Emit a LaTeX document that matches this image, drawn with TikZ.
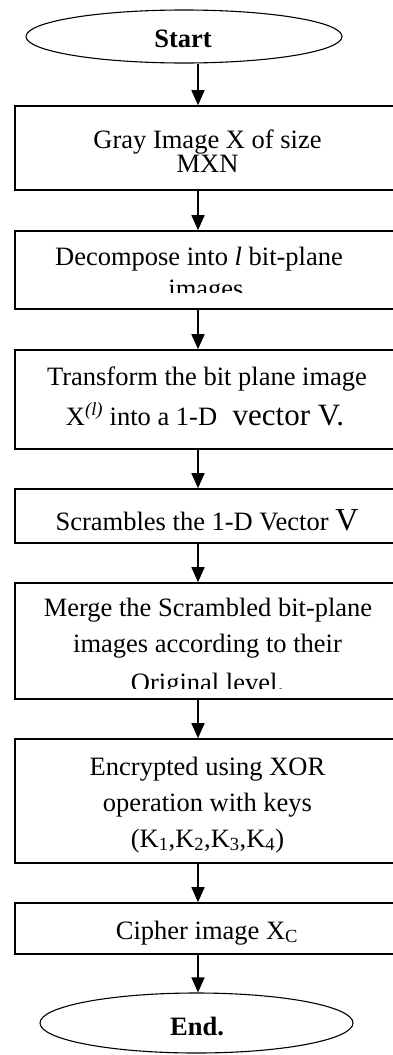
\documentclass[tikz,border=0pt]{standalone}
\usepackage{fontspec}
\setmainfont{Liberation Serif}
\usetikzlibrary{arrows.meta,shapes.geometric}
\begin{document}
\begin{tikzpicture}[x=1pt,y=-1pt,
  box/.style={draw,line width=1.6pt,rectangle,minimum width=384pt,inner sep=0pt},
  term/.style={draw,line width=1.1pt,ellipse,inner sep=0pt},
  txt/.style={anchor=base,inner sep=0pt,font=\fontsize{26.5}{30}\selectfont},
  btxt/.style={txt,font=\fontsize{26.5}{30}\selectfont\bfseries},
  flow/.style={line width=1.6pt,-{Triangle[length=15pt,width=13pt]}}
]
\useasboundingbox (0,0) rectangle (393,1055);
\coordinate (ax) at (198,0);

% terminals
\node[term,minimum width=316pt,minimum height=53pt] (st) at (184,36.5) {};
\node[btxt] (stt) at (183,47) {Start};
\node[term,minimum width=313pt,minimum height=60pt] (en) at (196.5,1023) {};
\node[btxt] (ent) at (197,1035) {End.};

% boxes
\node[box,minimum height=84pt]  (b1) at (207,148) {};
\node[box,minimum height=78pt]  (b2) at (207,270) {};
\node[box,minimum height=99pt]  (b3) at (207,399.5) {};
\node[box,minimum height=54pt]  (b4) at (207,516) {};
\node[box,minimum height=116pt] (b5) at (207,641) {};
\node[box,minimum height=124pt] (b6) at (207,801) {};
\node[box,minimum height=51pt]  (b7) at (207,928.5) {};

% texts
\node[txt] (t1a) at (207.5,148) {Gray Image X of size};
\node[txt] (t1b) at (207.5,172) {MXN};

\node[txt] (t2a) at (199,265) {Decompose into \textit{l} bit-plane};
\begin{scope}
  \clip (15,231) rectangle (399,292.7);
  \node[txt] (t2b) at (206,297) {images};
\end{scope}

\node[txt] (t3a) at (207,385) {Transform the bit plane image};
\node[txt] (t3b) at (205,425) {X\textsuperscript{\textit{(l)}} into a 1-D{\fontsize{31}{34}\selectfont\ \ vector V.}};

\node[txt] (t4) at (207,530) {Scrambles the 1-D Vector {\fontsize{32}{34}\selectfont V}};

\node[txt] (t5a) at (208,616) {Merge the Scrambled bit-plane};
\node[txt] (t5b) at (207.5,652) {images according to their};
\begin{scope}
  \clip (15,583) rectangle (399,688);
  \node[txt] (t5c) at (207.5,691) {Original level.};
\end{scope}

\node[txt] (t6a) at (207.5,775) {Encrypted using XOR};
\node[txt] (t6b) at (207.5,811) {operation with keys};
\node[txt] (t6c) at (207.5,847) {(K\textsubscript{1},K\textsubscript{2},K\textsubscript{3},K\textsubscript{4})};

\node[txt] (t7) at (207,939) {Cipher image X\textsubscript{C}};

% connectors
\draw[flow] (st.south -| ax) -- (b1.north -| ax);
\draw[flow] (b1.south -| ax) -- (b2.north -| ax);
\draw[flow] (b2.south -| ax) -- (b3.north -| ax);
\draw[flow] (b3.south -| ax) -- (b4.north -| ax);
\draw[flow] (b4.south -| ax) -- (b5.north -| ax);
\draw[flow] (b5.south -| ax) -- (b6.north -| ax);
\draw[flow] (b6.south -| ax) -- (b7.north -| ax);
\draw[flow] (b7.south -| ax) -- (en.north -| ax);
\end{tikzpicture}
\end{document}
